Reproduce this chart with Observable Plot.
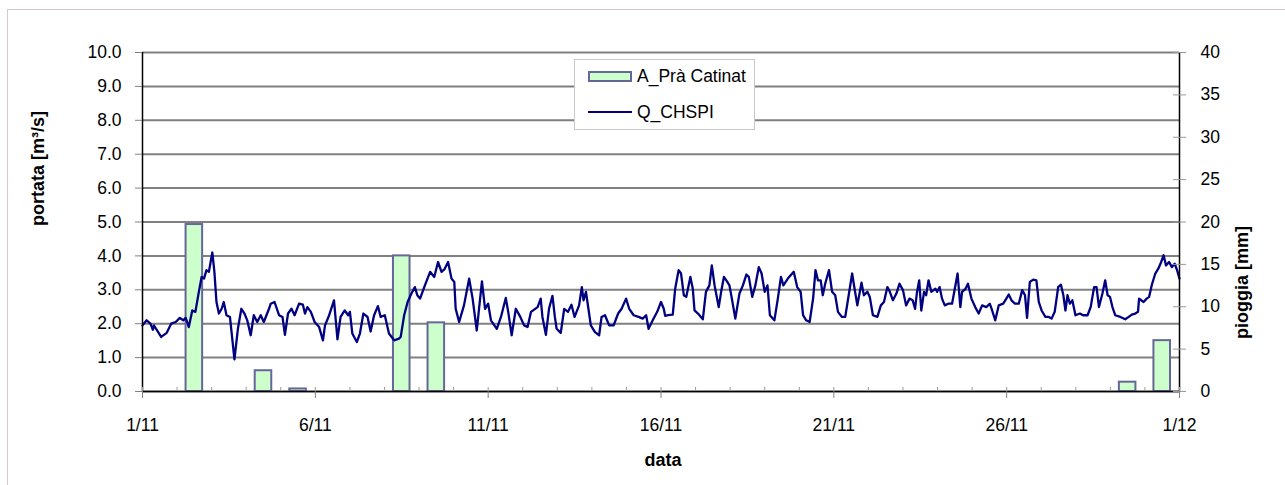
<!DOCTYPE html>
<html>
<head>
<meta charset="utf-8">
<script src="https://cdn.jsdelivr.net/npm/d3@7"></script>
<script src="https://cdn.jsdelivr.net/npm/@observablehq/plot@0.6"></script>
<style>
  body { margin: 0; background: #fff; font-family: "Liberation Sans", Arial, sans-serif; }
  #wrap { position: relative; width: 1285px; height: 485px; overflow: hidden; }
  #border { position: absolute; left: 7px; top: 9px; width: 1300px; height: 500px;
            border-left: 1px solid #dcc6c6; border-top: 1px solid #dcc6c6; }
  #chart { position: absolute; left: 0; top: 0; }
  #legend { position: absolute; left: 574px; top: 59px; width: 181px; height: 71px;
            border: 1px solid #c8c8c8; background: #fff; box-sizing: border-box; }
  .sw-rect { position: absolute; left: 13px; top: 11px; width: 44px; height: 11px;
             box-sizing: border-box; background: #ccffcc; border: 2px solid #666699; }
  .sw-line { position: absolute; left: 13px; top: 51px; width: 44px; height: 2px; background: #000080; }
  .lg-text { position: absolute; left: 62px; font-size: 17.5px; line-height: 20px; color: #000; white-space: nowrap; }
</style>
</head>
<body>
<div id="wrap">
  <div id="border"></div>
  <div id="chart"></div>
  <div id="legend">
    <div class="sw-rect"></div><div class="lg-text" style="top:6px">A_Prà Catinat</div>
    <div class="sw-line"></div><div class="lg-text" style="top:42px">Q_CHSPI</div>
  </div>
</div>
<script>
// ---- data ----
const seriesRain = "A_Prà Catinat";
const seriesFlow = "Q_CHSPI";
const startDay = [2007, 10, 1];   // 1/11
const endDay = [2007, 11, 1];     // 1/12

// daily rainfall (mm), day of November
const rainDays = [2, 4, 5, 8, 9, 29, 30];
const rainMm   = [19.7, 2.45, 0.3, 16.0, 8.1, 1.1, 6.0];

// discharge Q_CHSPI (m3/s), time in days since 1/11 00:00
const flowT = [
0.00,0.12,0.23,0.30,0.33,0.54,0.70,0.83,0.96,1.08,1.18,1.25,1.34,1.44,1.53,1.63,1.71,1.78,1.85,1.92,
2.02,2.08,2.14,2.21,2.29,2.35,2.43,2.53,2.66,2.76,2.86,2.95,3.03,3.13,3.22,3.32,3.42,3.51,3.66,3.71,
3.82,3.95,4.05,4.12,4.21,4.31,4.40,4.53,4.64,4.70,4.77,4.87,4.98,5.11,5.22,5.28,5.40,5.54,5.64,5.73,
5.85,5.95,6.00,6.07,6.20,6.29,6.39,6.51,6.60,6.70,6.81,6.89,7.01,7.13,7.28,7.42,7.47,7.57,7.67,7.78,
7.88,7.95,8.03,8.17,8.32,8.44,8.55,8.65,8.74,8.84,8.94,9.02,9.06,9.16,9.30,9.45,9.55,9.67,9.82,9.91,
10.00,10.08,10.25,10.37,10.51,10.58,10.68,10.80,10.93,11.04,11.14,11.24,11.43,11.52,11.57,11.67,11.76,11.86,11.93,11.98,
12.10,12.20,12.31,12.41,12.50,12.63,12.71,12.76,12.83,12.90,12.97,13.09,13.21,13.28,13.38,13.50,13.63,13.76,13.86,13.99,
14.08,14.21,14.35,14.47,14.57,14.64,14.76,14.89,15.00,15.08,15.12,15.20,15.34,15.41,15.51,15.58,15.66,15.73,15.85,15.92,
15.97,16.07,16.21,16.30,16.40,16.47,16.55,16.67,16.74,16.82,16.89,16.98,17.05,17.15,17.27,17.37,17.47,17.54,17.64,17.73,
17.83,17.91,18.00,18.08,18.15,18.28,18.38,18.47,18.54,18.67,18.77,18.84,18.94,19.04,19.11,19.20,19.30,19.40,19.47,19.54,
19.62,19.68,19.75,19.86,19.95,20.04,20.12,20.23,20.33,20.43,20.53,20.60,20.68,20.80,20.87,20.97,21.04,21.13,21.26,21.36,
21.45,21.55,21.62,21.71,21.81,21.90,22.00,22.09,22.19,22.28,22.35,22.40,22.47,22.53,22.61,22.67,22.74,22.82,22.94,22.99,
23.06,23.13,23.21,23.31,23.42,23.50,23.58,23.66,23.71,23.81,23.88,23.98,24.09,24.19,24.29,24.41,24.51,24.58,24.67,24.77,
24.90,24.99,25.06,25.14,25.24,25.35,25.45,25.53,25.59,25.67,25.77,25.86,25.93,26.01,26.12,26.22,26.30,26.39,26.49,26.57,
26.64,26.70,26.76,26.83,26.90,26.99,27.12,27.21,27.34,27.43,27.53,27.60,27.67,27.77,27.85,27.92,27.99,28.06,28.14,28.29,
28.43,28.53,28.62,28.72,28.80,28.83,28.96,29.05,29.12,29.20,29.30,29.39,29.47,29.54,29.61,29.70,29.78,29.86,29.93,30.00
];
const flowQ = [
1.95,2.10,2.00,1.82,1.95,1.61,1.73,2.00,2.05,2.17,2.10,2.17,1.90,2.39,2.35,2.94,3.38,3.33,3.58,3.53,
4.10,3.53,2.64,2.30,2.44,2.64,2.25,2.20,0.95,1.85,2.44,2.30,2.10,1.66,2.25,2.05,2.25,2.05,2.44,2.59,
2.64,2.25,2.20,1.67,2.30,2.44,2.25,2.59,2.56,2.30,2.49,2.35,2.05,1.90,1.51,1.95,2.25,2.69,1.54,2.20,
2.39,2.25,2.35,1.71,1.46,1.71,2.30,2.20,1.77,2.25,2.52,2.20,2.25,1.71,1.51,1.56,1.61,2.25,2.64,2.89,
3.08,2.84,2.74,3.13,3.53,3.38,3.82,3.53,3.61,3.82,3.33,3.23,2.44,2.05,2.54,3.33,2.74,1.80,3.25,2.44,
2.59,2.10,1.85,2.20,2.76,2.35,1.66,2.44,2.20,1.95,1.90,2.35,2.49,2.74,2.20,1.67,2.44,2.82,2.20,1.85,
1.73,2.44,2.35,2.56,2.20,2.54,3.08,2.69,2.94,2.44,1.95,1.75,1.66,2.20,2.25,1.95,1.95,2.30,2.44,2.74,
2.44,2.25,2.20,2.15,2.25,1.85,2.10,2.35,2.64,2.44,2.23,2.25,2.27,3.03,3.58,3.48,2.84,2.79,3.38,3.03,
2.39,2.30,2.13,2.94,3.13,3.72,3.13,2.49,2.94,3.38,3.28,3.13,2.74,2.15,2.89,3.13,3.45,3.38,2.79,3.13,
3.67,3.48,2.94,3.13,2.25,2.10,2.74,3.38,3.13,3.33,3.45,3.53,3.08,2.94,2.25,2.10,2.05,2.74,3.58,3.28,
3.28,2.84,3.18,3.58,2.94,2.84,2.35,2.20,2.20,2.84,3.48,3.03,2.54,3.21,2.84,2.94,2.79,2.25,2.20,2.54,
2.64,3.08,2.94,2.69,2.89,3.18,2.99,2.54,2.74,2.69,2.44,2.89,3.28,2.39,2.94,2.84,3.28,2.94,3.03,2.94,
3.08,2.74,2.54,2.59,2.59,3.03,3.48,2.49,2.94,3.03,3.18,2.74,2.49,2.30,2.54,2.49,2.59,2.39,2.10,2.54,
2.59,2.74,2.86,2.69,2.59,2.59,2.99,2.84,2.17,3.23,3.30,3.28,2.64,2.39,2.20,2.20,2.15,2.35,3.08,3.15,
2.84,2.39,2.84,2.59,2.69,2.25,2.30,2.25,2.25,2.49,3.08,3.08,2.49,2.89,3.28,2.84,2.79,2.49,2.25,2.20,
2.13,2.20,2.27,2.30,2.35,2.74,2.64,2.74,2.79,3.15,3.48,3.63,3.82,4.02,3.72,3.82,3.67,3.77,3.58,3.33
];

// axis ticks / labels
const leftTicks = d3.range(0, 10.01, 1);          // portata
const rightTicksMm = d3.range(0, 40.01, 5);       // pioggia
const mmPerFlow = 4;                              // 40 mm <-> 10 m3/s
const labelLeft = "portata [m\u00B3/s]";
const labelRight = "pioggia [mm]";
const labelX = "data";

// ---- build tables ----
const t0 = Date.UTC(...startDay);
const t1 = Date.UTC(...endDay);
const DAY = 86400000;
const rain = rainDays.map((d, i) => ({
  start: new Date(Date.UTC(startDay[0], startDay[1], d)),
  end: new Date(Date.UTC(startDay[0], startDay[1], d + 1)),
  mm: rainMm[i], series: seriesRain
}));
const flow = flowT.map((t, i) => ({ date: new Date(t0 + t * DAY), q: flowQ[i], series: seriesFlow }));
const majorTicks = d3.utcDay.range(new Date(t0), new Date(t1 + 1)).filter((d, i) => i % 5 === 0);
const minorTicks = d3.utcDay.range(new Date(t0), new Date(t1 + 1));
const fmt = d => `${d.getUTCDate()}/${d.getUTCMonth() + 1}`;

const font = "'Liberation Sans', Arial, sans-serif";

const chart = Plot.plot({
  width: 1285,
  height: 485,
  marginLeft: 142,
  marginRight: 106,
  marginTop: 52,
  marginBottom: 94,
  style: { fontFamily: font, fontSize: "17.5px", background: "transparent", color: "#000" },
  x: { type: "utc", domain: [new Date(t0), new Date(t1)], axis: null },
  y: { domain: [0, 10], axis: null },
  marks: [
    Plot.gridY(leftTicks, { stroke: "#808080", strokeOpacity: 1, strokeWidth: 2 }),
    Plot.rectY(rain, {
      x1: "start", x2: "end", y: d => d.mm / mmPerFlow,
      insetLeft: 9, insetRight: 9,
      fill: "#ccffcc", stroke: "#666699", strokeWidth: 2
    }),
    Plot.line(flow, { x: "date", y: "q", stroke: "#000080", strokeWidth: 2.3, curve: "linear" }),
    // axis lines
    Plot.ruleY([0], { stroke: "#000", strokeWidth: 1.5 }),
    Plot.ruleX([new Date(t0), new Date(t1)], { stroke: "#000", strokeWidth: 1.5 }),
    // left axis
    Plot.axisY({
      anchor: "left", ticks: leftTicks, tickFormat: d => d.toFixed(1),
      tickSize: 7, tickPadding: 14, stroke: "#808080", fontSize: 17.5, label: null
    }),
    // right axis (rain scale)
    Plot.axisY({
      anchor: "right", ticks: rightTicksMm.map(v => v / mmPerFlow), tickFormat: v => String(Math.round(v * mmPerFlow)),
      tickSize: 6, tickPadding: 15, stroke: "#999", fontSize: 17.5, label: null
    }),
    Plot.axisY({
      anchor: "right", ticks: rightTicksMm.map(v => v / mmPerFlow), tickFormat: () => "",
      tickSize: -7, stroke: "#999", label: null
    }),
    // x axis: major ticks + labels
    Plot.axisX({
      anchor: "bottom", ticks: majorTicks, tickFormat: fmt,
      tickSize: 7, tickPadding: 20, stroke: "#808080", fontSize: 17.5, label: null
    }),
    // x axis: daily minor ticks (inside)
    Plot.axisX({
      anchor: "bottom", ticks: minorTicks, tickFormat: () => "",
      tickSize: -4, stroke: "#999", label: null
    }),
    // axis titles
    Plot.text([labelLeft], { text: d => d, frameAnchor: "left", dx: -104, dy: 4, rotate: -90, fontWeight: "bold", fontSize: 18 }),
    Plot.text([labelRight], { text: d => d, frameAnchor: "right", dx: 63, dy: 4, rotate: -90, fontWeight: "bold", fontSize: 18 }),
    Plot.text([labelX], { text: d => d, frameAnchor: "bottom", dy: 74, dx: 2, fontWeight: "bold", fontSize: 18 })
  ]
});
document.getElementById("chart").appendChild(chart);
</script>
</body>
</html>
